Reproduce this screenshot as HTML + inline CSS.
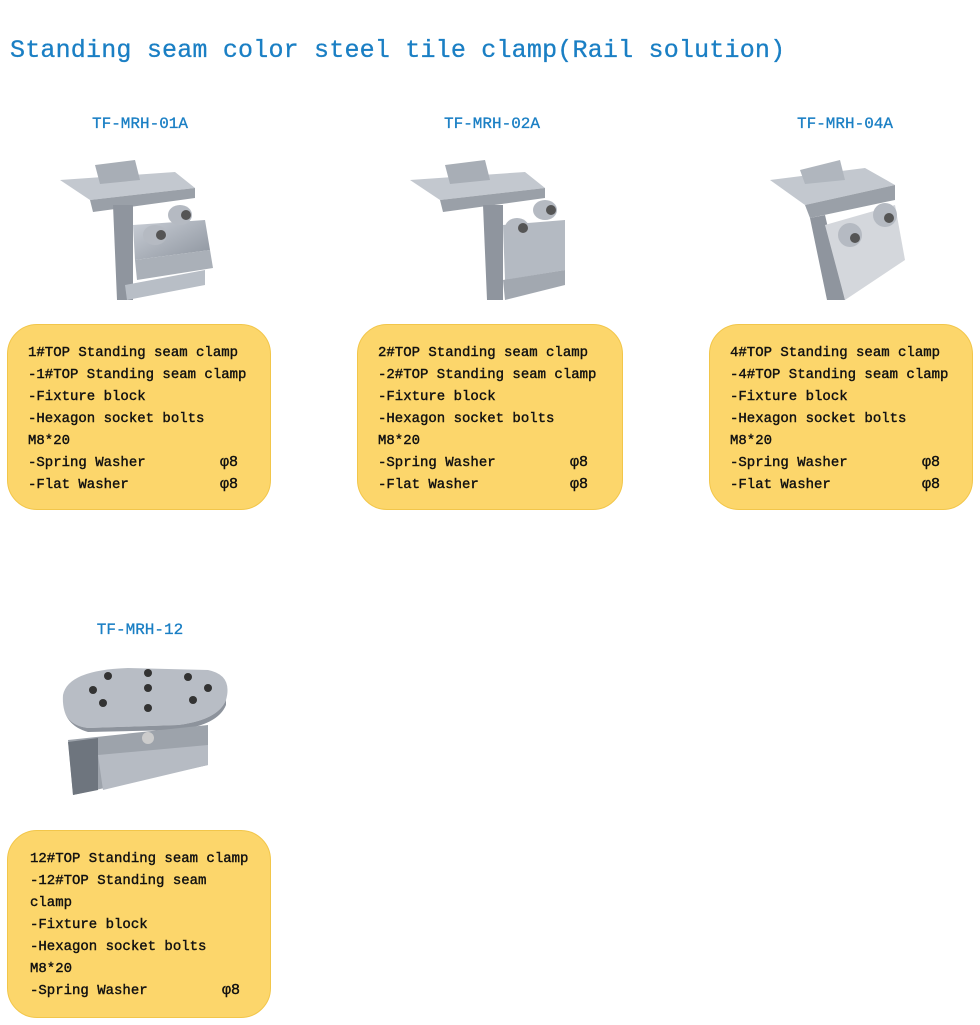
<!DOCTYPE html>
<html><head><meta charset="utf-8"><style>
body{margin:0;width:980px;height:1025px;background:#fff;position:relative;overflow:hidden;font-family:"Liberation Mono","Noto Sans CJK SC",monospace;}
.t{position:absolute;left:10px;top:36px;font-size:25px;color:#1a7fc4;white-space:pre;letter-spacing:0.2px;-webkit-text-stroke:0.3px #1a7fc4}
.lbl{position:absolute;font-size:16px;color:#1a7fc4;transform:translateX(-50%);white-space:pre;-webkit-text-stroke:0.3px #1a7fc4}
.box{position:absolute;width:264px;height:186px;background:#fcd66b;border:1px solid #f2c64a;border-radius:30px;box-sizing:border-box}
.ln{position:absolute;font-size:14px;color:#111;white-space:pre;line-height:22px;-webkit-text-stroke:0.4px #111}
.ph{position:absolute;font-size:15px;color:#111;line-height:22px;-webkit-text-stroke:0.4px #111}
svg{position:absolute}
</style></head><body>
<div class="t">Standing seam color steel tile clamp(Rail solution)</div>

<div class="lbl" style="left:140px;top:115px">TF-MRH-01A</div>
<div class="lbl" style="left:492px;top:115px">TF-MRH-02A</div>
<div class="lbl" style="left:845px;top:115px">TF-MRH-04A</div>
<div class="lbl" style="left:140px;top:621px">TF-MRH-12</div>

<svg style="left:55px;top:150px" width="170" height="155" viewBox="0 0 170 155">
<defs><linearGradient id="g1" x1="0" y1="0" x2="1" y2="1"><stop offset="0" stop-color="#c9ced6"/><stop offset="1" stop-color="#8d949e"/></linearGradient></defs>
<polygon points="5,30 120,22 140,38 35,50" fill="#c3c8cf"/>
<polygon points="35,50 140,38 140,48 38,62" fill="#9aa0a8"/>
<polygon points="58,55 78,55 78,150 62,150" fill="#8f959e"/>
<polygon points="78,75 150,70 155,100 80,110" fill="url(#g1)"/>
<polygon points="80,110 155,100 158,118 82,130" fill="#aab0b8"/>
<polygon points="70,135 150,120 150,135 72,150" fill="#b8bec6"/>
<polygon points="40,15 80,10 85,30 45,34" fill="#a8aeb6"/>
<ellipse cx="100" cy="85" rx="12" ry="10" fill="#b5bac2"/><circle cx="106" cy="85" r="5" fill="#555"/>
<ellipse cx="125" cy="65" rx="12" ry="10" fill="#b5bac2"/><circle cx="131" cy="65" r="5" fill="#555"/>
</svg>
<svg style="left:405px;top:150px" width="170" height="155" viewBox="0 0 170 155">
<polygon points="5,30 120,22 140,38 35,50" fill="#c3c8cf"/>
<polygon points="35,50 140,38 140,48 38,62" fill="#9aa0a8"/>
<polygon points="78,55 98,55 98,150 82,150" fill="#8f959e"/>
<polygon points="98,75 160,70 160,120 100,130" fill="#b4bac2"/>
<polygon points="98,130 160,120 160,135 100,150" fill="#a2a8b0"/>
<polygon points="40,15 80,10 85,30 45,34" fill="#a8aeb6"/>
<ellipse cx="112" cy="78" rx="12" ry="10" fill="#b5bac2"/><circle cx="118" cy="78" r="5" fill="#555"/>
<ellipse cx="140" cy="60" rx="12" ry="10" fill="#b5bac2"/><circle cx="146" cy="60" r="5" fill="#555"/>
</svg>
<svg style="left:765px;top:150px" width="150" height="155" viewBox="0 0 150 155">
<polygon points="5,30 100,18 130,35 40,55" fill="#c3c8cf"/>
<polygon points="40,55 130,35 130,50 45,68" fill="#9aa0a8"/>
<polygon points="45,68 60,65 80,150 62,150" fill="#8f959e"/>
<polygon points="60,75 130,55 140,110 80,150" fill="#d4d7dc"/>
<polygon points="35,20 75,10 80,30 40,34" fill="#b0b6be"/>
<ellipse cx="85" cy="85" rx="12" ry="12" fill="#b5bac2"/><circle cx="90" cy="88" r="5" fill="#555"/>
<ellipse cx="120" cy="65" rx="12" ry="12" fill="#b5bac2"/><circle cx="124" cy="68" r="5" fill="#555"/>
</svg>
<svg style="left:58px;top:660px" width="175" height="140" viewBox="0 0 175 140">
<path d="M5,35 Q10,10 70,8 L150,10 Q175,15 168,40 Q160,60 120,65 L30,68 Q3,65 5,35Z" fill="#b8bdc5"/>
<path d="M5,40 Q5,65 30,72 L120,70 Q160,65 168,45 L168,40 Q160,60 120,65 L30,68 Q5,65 5,40Z" fill="#8d939c"/>
<g fill="#333"><circle cx="50" cy="16" r="4"/><circle cx="90" cy="13" r="4"/><circle cx="130" cy="17" r="4"/><circle cx="150" cy="28" r="4"/><circle cx="35" cy="30" r="4"/><circle cx="90" cy="28" r="4"/><circle cx="45" cy="43" r="4"/><circle cx="90" cy="48" r="4"/><circle cx="135" cy="40" r="4"/></g>
<polygon points="10,80 150,65 150,105 15,135" fill="#9da3ab"/>
<polygon points="10,82 40,78 40,130 15,135" fill="#6e757e"/>
<polygon points="40,95 150,85 150,105 45,130" fill="#b6bbc3"/>
<circle cx="90" cy="78" r="6" fill="#ccc"/>
</svg>

<div class="box" style="left:7px;top:324px"></div>
<div class="box" style="left:357px;top:324px;width:266px"></div>
<div class="box" style="left:709px;top:324px"></div>
<div class="box" style="left:7px;top:830px;height:188px"></div>

<div class="ln" style="left:28px;top:342px">1#TOP Standing seam clamp
-1#TOP Standing seam clamp
-Fixture block
-Hexagon socket bolts
M8*20
-Spring Washer
-Flat Washer</div>
<div class="ph" style="left:220px;top:452px">φ8<br>φ8</div>

<div class="ln" style="left:378px;top:342px">2#TOP Standing seam clamp
-2#TOP Standing seam clamp
-Fixture block
-Hexagon socket bolts
M8*20
-Spring Washer
-Flat Washer</div>
<div class="ph" style="left:570px;top:452px">φ8<br>φ8</div>

<div class="ln" style="left:730px;top:342px">4#TOP Standing seam clamp
-4#TOP Standing seam clamp
-Fixture block
-Hexagon socket bolts
M8*20
-Spring Washer
-Flat Washer</div>
<div class="ph" style="left:922px;top:452px">φ8<br>φ8</div>

<div class="ln" style="left:30px;top:848px">12#TOP Standing seam clamp
-12#TOP Standing seam
clamp
-Fixture block
-Hexagon socket bolts
M8*20
-Spring Washer</div>
<div class="ph" style="left:222px;top:980px">φ8</div>
</body></html>
